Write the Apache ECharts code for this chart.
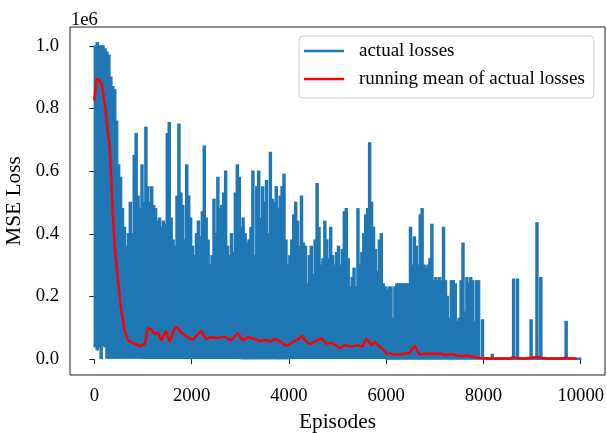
<!DOCTYPE html>
<html lang="en">
<head>
    <meta charset="UTF-8">
    <title>MSE Loss</title>
    <script type="text/javascript" src="https://cdn.jsdelivr.net/npm/echarts@6/dist/echarts.min.js"></script>
    <style>
        html, body { margin: 0; padding: 0; background: #fff; }
        #charts { width: 607px; height: 433px; }
    </style>
</head>
<body>
<div id="charts"></div>
<script>
    // losses in units of 1e6, one peak per 40 episodes
    var binSize = 40
    var peakLosses = [
        1.00, 1.01, 1.00, 1.00, 1.00, 0.99, 0.98, 0.97, 0.90, 0.87,
        0.86, 0.76, 0.62, 0.58, 0.48, 0.42, 0.36, 0.40, 0.50, 0.40,
        0.65, 0.72, 0.52, 0.48, 0.62, 0.50, 0.74, 0.55, 0.50, 0.55,
        0.49, 0.48, 0.44, 0.45, 0.42, 0.44, 0.43, 0.72, 0.755, 0.45,
        0.38, 0.36, 0.52, 0.75, 0.53, 0.49, 0.38, 0.62, 0.52, 0.45,
        0.36, 0.33, 0.40, 0.44, 0.39, 0.47, 0.68, 0.45, 0.38, 0.30,
        0.33, 0.51, 0.40, 0.58, 0.48, 0.49, 0.53, 0.60, 0.36, 0.33,
        0.40, 0.34, 0.53, 0.62, 0.58, 0.42, 0.45, 0.40, 0.37, 0.38,
        0.42, 0.60, 0.33, 0.55, 0.60, 0.45, 0.55, 0.50, 0.57, 0.40,
        0.66, 0.51, 0.50, 0.55, 0.48, 0.52, 0.55, 0.59, 0.38, 0.30,
        0.33, 0.38, 0.46, 0.50, 0.44, 0.36, 0.52, 0.37, 0.36, 0.24,
        0.33, 0.36, 0.27, 0.38, 0.56, 0.42, 0.30, 0.32, 0.44, 0.38,
        0.32, 0.42, 0.33, 0.30, 0.34, 0.36, 0.30, 0.35, 0.47, 0.48,
        0.32, 0.23, 0.26, 0.29, 0.23, 0.48, 0.30, 0.34, 0.40, 0.46,
        0.48, 0.69, 0.50, 0.42, 0.35, 0.28, 0.38, 0.40, 0.24, 0.23,
        0.22, 0.23, 0.23, 0.13, 0.23, 0.24, 0.24, 0.24, 0.24, 0.24,
        0.24, 0.24, 0.42, 0.30, 0.39, 0.36, 0.30, 0.46, 0.48, 0.30,
        0.29, 0.30, 0.32, 0.43, 0.25, 0.26, 0.25, 0.26, 0.25, 0.42,
        0.25, 0.20, 0.13, 0.25, 0.25, 0.24, 0.12, 0.13, 0.25, 0.37,
        0.15, 0.26, 0.24, 0.26, 0.25, 0.12, 0.25, 0.25, 0.005, 0.125,
        0.003, 0.004, 0.003, 0.002, 0.015, 0.003, 0.002, 0.003, 0.002, 0.003,
        0.002, 0.003, 0.002, 0.003, 0.004, 0.255, 0.004, 0.255, 0.003, 0.002,
        0.003, 0.002, 0.003, 0.004, 0.125, 0.003, 0.004, 0.435, 0.004, 0.26,
        0.003, 0.002, 0.003, 0.002, 0.003, 0.002, 0.003, 0.002, 0.003, 0.002,
        0.003, 0.002, 0.12, 0.003, 0.002, 0.003, 0.002, 0.003, 0.002, 0.003
    ]
    var earlyFloors = [0.04, 0.03, 0.04, 0.002, 0.045, 0.04]     // lows of the first bins
    var floorLosses = [0.004, 0.003, 0.003, 0.002, 0.003, 0.003, 0.001, 0.001, 0.0, 0.0]   // lows per 1000 episodes

    var meanEpisodes = [0, 45, 111, 158, 199, 240, 281, 316, 349, 384,
        419, 487, 554, 624, 692, 815, 938, 1041, 1102, 1164,
        1246, 1308, 1376, 1472, 1548, 1636, 1688, 1786, 1924, 2026,
        2129, 2201, 2293, 2416, 2540, 2683, 2806, 2950, 3053, 3155,
        3258, 3402, 3539, 3607, 3710, 3833, 3950, 4038, 4120, 4223,
        4264, 4346, 4428, 4551, 4668, 4771, 4900, 5044, 5167, 5291,
        5414, 5516, 5592, 5640, 5695, 5763, 5866, 5948, 6003, 6132,
        6276, 6399, 6481, 6584, 6646, 6687, 6810, 6954, 7097, 7220,
        7344, 7446, 7570, 7672, 7775, 7918, 8123, 8328, 8533, 8595,
        8697, 8841, 9005, 9088, 9170, 9313, 9560, 9683, 9806, 9909]
    var meanLosses = [0.826, 0.895, 0.89, 0.875, 0.88, 0.785, 0.72, 0.677, 0.57, 0.454,
        0.36, 0.25, 0.156, 0.092, 0.06, 0.05, 0.042, 0.05, 0.10, 0.095,
        0.08, 0.085, 0.06, 0.09, 0.055, 0.095, 0.103, 0.085, 0.068, 0.062,
        0.08, 0.09, 0.065, 0.07, 0.068, 0.072, 0.06, 0.083, 0.06, 0.07,
        0.066, 0.058, 0.062, 0.056, 0.064, 0.055, 0.042, 0.05, 0.058, 0.067,
        0.075, 0.058, 0.048, 0.058, 0.066, 0.05, 0.052, 0.035, 0.045, 0.04,
        0.045, 0.04, 0.066, 0.058, 0.045, 0.055, 0.04, 0.03, 0.019, 0.016,
        0.015, 0.018, 0.02, 0.044, 0.025, 0.015, 0.018, 0.017, 0.018, 0.013,
        0.016, 0.012, 0.01, 0.012, 0.008, 0.004, 0.002, 0.002, 0.002, 0.006,
        0.004, 0.002, 0.005, 0.008, 0.005, 0.002, 0.002, 0.004, 0.002, 0.002]

    var xTicks = [0, 2000, 4000, 6000, 8000, 10000]
    var yTicks = [0, 0.2, 0.4, 0.6, 0.8, 1.0]
    var lastEpisode = 9999

    // one column per bin: [start episode, end episode, peak, low]
    var lossBins = []
    for (var i = 0; i < peakLosses.length; i++) {
        var ep = i * binSize
        var low = i < earlyFloors.length ? earlyFloors[i] : floorLosses[Math.floor(ep / 1000)]
        lossBins.push([ep, Math.min(ep + binSize, lastEpisode), peakLosses[i], low])
    }

    var meanPoints = meanEpisodes.map(function (e, k) { return [e, meanLosses[k]] })

    var serif = 'Liberation Serif'
    var ink = '#222'
    var blue = '#1f77b4'
    var half = 0.75   // half of the 1.5px line width

    var chart = echarts.init(document.getElementById('charts'), null, {renderer: 'canvas'})
    chart.setOption({
        animation: false,
        backgroundColor: '#fff',
        textStyle: {fontFamily: serif},
        grid: {left: 70, top: 27, right: 2, bottom: 58, show: true, borderColor: ink, borderWidth: 1,
            containLabel: false, outerBoundsMode: 'none'},
        graphic: [{
            type: 'text', left: 71, top: 11,
            style: {text: '1e6', font: '18.67px "Liberation Serif"', fill: '#000'}
        }],
        legend: {
            orient: 'vertical', left: 299, top: 36,
            icon: 'rect', itemWidth: 40, itemHeight: 2.5, itemGap: 6,
            padding: [4, 9, 8, 5],
            backgroundColor: 'rgba(255,255,255,0.8)', borderColor: '#cccccc', borderWidth: 1, borderRadius: 4,
            textStyle: {fontFamily: serif, fontSize: 19, color: '#000', lineHeight: 22, padding: [0, 0, 0, 10]},
            data: ['actual losses', 'running mean of actual losses']
        },
        xAxis: {
            type: 'value', min: -500, max: 10499,
            axisLine: {show: false}, splitLine: {show: false},
            axisTick: {customValues: xTicks, length: 5, lineStyle: {color: ink}},
            axisLabel: {
                customValues: xTicks, fontFamily: serif, fontSize: 18.67, color: '#000', margin: 12,
                formatter: function (v) { return String(v) }
            },
            name: 'Episodes', nameLocation: 'middle', nameGap: 37,
            nameTextStyle: {fontFamily: serif, fontSize: 21.33, color: '#000'}
        },
        yAxis: {
            type: 'value', min: -0.0505, max: 1.0605,
            axisLine: {show: false}, splitLine: {show: false},
            axisTick: {customValues: yTicks, length: 5, lineStyle: {color: ink}},
            axisLabel: {
                customValues: yTicks, fontFamily: serif, fontSize: 18.67, color: '#000', margin: 11,
                formatter: function (v) { return v.toFixed(1) }
            },
            name: 'MSE Loss', nameLocation: 'middle', nameGap: 36,
            nameTextStyle: {fontFamily: serif, fontSize: 21.33, color: '#000'}
        },
        series: [{
            name: 'actual losses', type: 'custom', data: lossBins,
            encode: {x: [0, 1], y: [2, 3]}, z: 2,
            itemStyle: {color: blue},
            renderItem: function (params, api) {
                var topLeft = api.coord([api.value(0), api.value(2)])
                var bottomRight = api.coord([api.value(1), api.value(3)])
                return {
                    type: 'rect',
                    shape: {
                        x: topLeft[0] - half, y: topLeft[1] - half,
                        width: bottomRight[0] - topLeft[0] + 2 * half,
                        height: bottomRight[1] - topLeft[1] + 2 * half
                    },
                    style: {fill: blue}
                }
            }
        }, {
            name: 'running mean of actual losses', type: 'line', data: meanPoints,
            symbol: 'none', showSymbol: false, z: 3,
            color: '#ff0000', lineStyle: {color: '#ff0000', width: 2.5}
        }]
    })
</script>
</body>
</html>
